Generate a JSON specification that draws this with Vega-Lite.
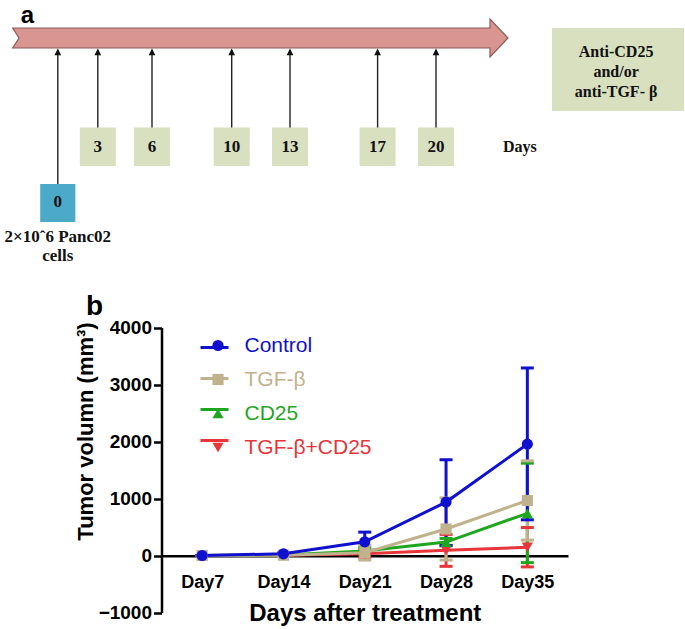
{
"$schema": "https://vega.github.io/schema/vega-lite/v6.json",
"width": 685, "height": 629, "autosize": "none", "padding": 0, "background": "#ffffff",
"config": {"view": {"stroke": null}, "font": "Liberation Sans", "legend": {"padding": 0, "labelLimit": 400}},
"datasets": {
 "events": [
  {"day": 0, "label": "0", "kind": "inject"},
  {"day": 3, "label": "3", "kind": "treat"},
  {"day": 6, "label": "6", "kind": "treat"},
  {"day": 10, "label": "10", "kind": "treat"},
  {"day": 13, "label": "13", "kind": "treat"},
  {"day": 17, "label": "17", "kind": "treat"},
  {"day": 20, "label": "20", "kind": "treat"}
 ],
 "tumor": [
  {"group": "TGF-β+CD25", "day": "Day7", "mean": 0, "lo": 0, "hi": 0},
  {"group": "TGF-β+CD25", "day": "Day14", "mean": 5, "lo": -10, "hi": 20},
  {"group": "TGF-β+CD25", "day": "Day21", "mean": 30, "lo": -30, "hi": 90},
  {"group": "TGF-β+CD25", "day": "Day28", "mean": 90, "lo": -190, "hi": 370},
  {"group": "TGF-β+CD25", "day": "Day35", "mean": 145, "lo": -200, "hi": 490},
  {"group": "CD25", "day": "Day7", "mean": 0, "lo": 0, "hi": 0},
  {"group": "CD25", "day": "Day14", "mean": 8, "lo": -5, "hi": 20},
  {"group": "CD25", "day": "Day21", "mean": 80, "lo": 20, "hi": 140},
  {"group": "CD25", "day": "Day28", "mean": 235, "lo": 170, "hi": 300},
  {"group": "CD25", "day": "Day35", "mean": 740, "lo": -125, "hi": 1620},
  {"group": "TGF-β", "day": "Day7", "mean": 0, "lo": 0, "hi": 0},
  {"group": "TGF-β", "day": "Day14", "mean": 5, "lo": -10, "hi": 20},
  {"group": "TGF-β", "day": "Day21", "mean": 50, "lo": -80, "hi": 180},
  {"group": "TGF-β", "day": "Day28", "mean": 465, "lo": -80, "hi": 1010},
  {"group": "TGF-β", "day": "Day35", "mean": 965, "lo": 270, "hi": 1660},
  {"group": "Control", "day": "Day7", "mean": 0, "lo": 0, "hi": 0},
  {"group": "Control", "day": "Day14", "mean": 30, "lo": 15, "hi": 45},
  {"group": "Control", "day": "Day21", "mean": 240, "lo": 70, "hi": 410},
  {"group": "Control", "day": "Day28", "mean": 937, "lo": 175, "hi": 1680},
  {"group": "Control", "day": "Day35", "mean": 1954, "lo": 626, "hi": 3290}
 ]
},
"layer": [
 {
  "layer": [
   {"data": {"values": [{"day": 0}]},
    "mark": {"type": "point", "shape": "M-2.255,-0.5L21.61,-0.5L21.61,-0.95L22.51,0L21.61,0.95L21.61,0.5L-2.255,0.5L-1.94,0Z", "size": 1600, "filled": true, "fill": "#d99590", "stroke": "#8c5b58", "strokeWidth": 1.2, "opacity": 1},
    "encoding": {
     "x": {"field": "day", "type": "quantitative", "scale": {"type": "linear", "domain": [0, 3, 6, 10, 13, 17, 20], "range": [57.8, 97.8, 152, 231.7, 290, 377.6, 436], "zero": false, "nice": false}, "axis": null},
     "y": {"datum": 38, "type": "quantitative", "scale": {"type": "linear", "domain": [0, 629], "range": [0, 629], "zero": false, "nice": false}, "axis": null}}},
   {"data": {"name": "events"}, "transform": [{"filter": "datum.kind === 'treat'"}],
    "mark": {"type": "rule", "color": "#222222", "strokeWidth": 1.4},
    "encoding": {"x": {"field": "day", "type": "quantitative"}, "y": {"datum": 128, "type": "quantitative"}, "y2": {"datum": 50}}},
   {"data": {"name": "events"}, "transform": [{"filter": "datum.kind === 'inject'"}],
    "mark": {"type": "rule", "color": "#222222", "strokeWidth": 1.4},
    "encoding": {"x": {"field": "day", "type": "quantitative"}, "y": {"datum": 184, "type": "quantitative"}, "y2": {"datum": 50}}},
   {"data": {"name": "events"},
    "mark": {"type": "point", "shape": "M0,0L0.67,1.35L-0.67,1.35Z", "size": 100, "filled": true, "color": "#111111", "opacity": 1},
    "encoding": {"x": {"field": "day", "type": "quantitative"}, "y": {"datum": 48.5, "type": "quantitative"}}},
   {"data": {"name": "events"}, "transform": [{"filter": "datum.kind === 'treat'"}],
    "mark": {"type": "point", "shape": "M-0.9,-0.96H0.9V0.96H-0.9Z", "size": 1600, "filled": true, "color": "#d8e0bf", "opacity": 1},
    "encoding": {"x": {"field": "day", "type": "quantitative"}, "y": {"datum": 146.8, "type": "quantitative"}}},
   {"data": {"name": "events"}, "transform": [{"filter": "datum.kind === 'inject'"}],
    "mark": {"type": "point", "shape": "M-0.88,-0.95H0.88V0.95H-0.88Z", "size": 1600, "filled": true, "color": "#4aaac8", "opacity": 1},
    "encoding": {"x": {"field": "day", "type": "quantitative"}, "y": {"datum": 203, "type": "quantitative"}}},
   {"data": {"name": "events"}, "transform": [{"filter": "datum.kind === 'treat'"}],
    "mark": {"type": "text", "font": "Liberation Serif", "fontWeight": "bold", "fontSize": 17, "color": "#111111", "baseline": "middle"},
    "encoding": {"x": {"field": "day", "type": "quantitative"}, "y": {"datum": 147, "type": "quantitative"}, "text": {"field": "label"}}},
   {"data": {"name": "events"}, "transform": [{"filter": "datum.kind === 'inject'"}],
    "mark": {"type": "text", "font": "Liberation Serif", "fontWeight": "bold", "fontSize": 17, "color": "#111111", "baseline": "middle"},
    "encoding": {"x": {"field": "day", "type": "quantitative"}, "y": {"datum": 202, "type": "quantitative"}, "text": {"field": "label"}}},
   {"data": {"values": [{}]},
    "mark": {"type": "point", "shape": "M-3.3,-2.075H3.3V2.075H-3.3Z", "size": 1600, "filled": true, "color": "#d8e0bf", "opacity": 1},
    "encoding": {"x": {"datum": 29.35, "type": "quantitative"}, "y": {"datum": 69.5, "type": "quantitative"}}},
   {"data": {"values": [{"t": ["Anti-CD25", "and/or", "anti-TGF- β"]}]},
    "mark": {"type": "text", "font": "Liberation Serif", "fontWeight": "bold", "fontSize": 16, "color": "#111111", "baseline": "middle", "lineHeight": 20},
    "encoding": {"x": {"datum": 29.25, "type": "quantitative"}, "y": {"datum": 52, "type": "quantitative"}, "text": {"field": "t"}}},
   {"data": {"values": [{"t": "Days"}]},
    "mark": {"type": "text", "font": "Liberation Serif", "fontWeight": "bold", "fontSize": 16, "color": "#111111", "baseline": "middle"},
    "encoding": {"x": {"datum": 24.31, "type": "quantitative"}, "y": {"datum": 147, "type": "quantitative"}, "text": {"field": "t"}}},
   {"data": {"values": [{"t": ["2×10ˆ6 Panc02", "cells"]}]},
    "mark": {"type": "text", "font": "Liberation Serif", "fontWeight": "bold", "fontSize": 17, "color": "#111111", "baseline": "middle", "lineHeight": 19},
    "encoding": {"x": {"datum": 0, "type": "quantitative"}, "y": {"datum": 237, "type": "quantitative"}, "text": {"field": "t"}}},
   {"data": {"values": [{"t": "a"}]},
    "mark": {"type": "text", "font": "Liberation Sans", "fontWeight": "bold", "fontSize": 24, "color": "#000000", "baseline": "alphabetic"},
    "encoding": {"x": {"datum": -2.27, "type": "quantitative"}, "y": {"datum": 22.5, "type": "quantitative"}, "text": {"field": "t"}}},
   {"data": {"values": [{"t": "b"}]},
    "mark": {"type": "text", "font": "Liberation Sans", "fontWeight": "bold", "fontSize": 28, "color": "#000000", "baseline": "alphabetic"},
    "encoding": {"x": {"datum": 2.75, "type": "quantitative"}, "y": {"datum": 315, "type": "quantitative"}, "text": {"field": "t"}}}
  ]
 },
 {
  "data": {"name": "tumor"},
  "encoding": {
   "x": {"field": "day", "type": "ordinal", "sort": ["Day7", "Day14", "Day21", "Day28", "Day35"],
    "scale": {"type": "point", "range": [161.5, 568], "padding": 0.5},
    "axis": {"orient": "bottom", "offset": -73.3, "title": "Days after treatment", "titleFont": "Liberation Sans", "titleFontSize": 24, "titleFontWeight": "bold", "titleColor": "#000000", "titleY": 58, "titleBaseline": "middle", "labelFont": "Liberation Sans", "labelFontSize": 18, "labelFontWeight": "bold", "labelColor": "#000000", "labelPadding": 18, "labelAngle": 0, "ticks": false, "domainColor": "#000000", "domainWidth": 2.5, "grid": false}}
  },
  "layer": [
   {"mark": {"type": "rule", "strokeWidth": 3},
    "encoding": {
     "y": {"field": "lo", "type": "quantitative", "title": "Tumor volumn (mm³)", "scale": {"domain": [-1000, 4000], "range": [612.5, 327.5], "nice": false, "zero": false},
      "axis": {"orient": "left", "offset": -161.5, "values": [-1000, 0, 1000, 2000, 3000, 4000], "format": "d", "titleFont": "Liberation Sans", "titleFontSize": 22, "titleFontWeight": "bold", "titleColor": "#000000", "titleX": -76, "titleY": 431, "titleAngle": -90, "titleBaseline": "middle", "titleAlign": "center", "labelFont": "Liberation Sans", "labelFontSize": 19, "labelFontWeight": "bold", "labelColor": "#000000", "labelPadding": 2, "tickSize": 8, "tickWidth": 2.5, "tickColor": "#000000", "domainColor": "#000000", "domainWidth": 2.5, "grid": false}},
     "y2": {"field": "hi"},
     "color": {"field": "group", "type": "nominal", "scale": {"domain": ["Control", "TGF-β", "CD25", "TGF-β+CD25"], "range": ["#1010d0", "#bfb28c", "#1fa61f", "#e8353a"]}, "legend": null}}},
   {"mark": {"type": "point", "shape": "stroke", "size": 169, "strokeWidth": 3, "filled": false, "opacity": 1},
    "encoding": {
     "y": {"field": "hi", "type": "quantitative", "title": "Tumor volumn (mm³)"},
     "color": {"field": "group", "type": "nominal", "legend": null}}},
   {"mark": {"type": "point", "shape": "stroke", "size": 169, "strokeWidth": 3, "filled": false, "opacity": 1},
    "encoding": {
     "y": {"field": "lo", "type": "quantitative", "title": "Tumor volumn (mm³)"},
     "color": {"field": "group", "type": "nominal", "legend": null}}},
   {"mark": {"type": "line", "strokeWidth": 3},
    "encoding": {
     "y": {"field": "mean", "type": "quantitative", "title": "Tumor volumn (mm³)"},
     "color": {"field": "group", "type": "nominal", "legend": {"orient": "none", "legendX": 199, "legendY": 332, "title": null, "symbolType": "stroke", "symbolSize": 784, "symbolStrokeWidth": 3, "labelExpr": "''", "labelFontSize": 21, "rowPadding": 5, "padding": 0}}}},
   {"mark": {"type": "point", "filled": true, "size": 125, "opacity": 1},
    "encoding": {
     "y": {"field": "mean", "type": "quantitative", "title": "Tumor volumn (mm³)"},
     "color": {"field": "group", "type": "nominal", "legend": {"orient": "none", "legendX": 207.5, "legendY": 335, "title": null, "labelFont": "Liberation Sans", "labelFontSize": 21, "labelColor": {"expr": "scale('color', datum.value)"}, "labelOffset": 16, "rowPadding": 12, "symbolSize": 125, "symbolStrokeWidth": 0, "padding": 0}},
     "shape": {"field": "group", "type": "nominal", "scale": {"domain": ["Control", "TGF-β", "CD25", "TGF-β+CD25"], "range": ["circle", "square", "triangle-up", "triangle-down"]}, "legend": {"orient": "none", "legendX": 207.5, "legendY": 335, "title": null, "labelFont": "Liberation Sans", "labelFontSize": 21, "labelColor": {"expr": "scale('color', datum.value)"}, "labelOffset": 16, "rowPadding": 12, "symbolSize": 125, "symbolStrokeWidth": 0, "padding": 0}}}}
  ],
  "resolve": {"legend": {"color": "independent", "shape": "independent"}}
 }
],
"resolve": {"scale": {"x": "independent", "y": "independent"}}
}
